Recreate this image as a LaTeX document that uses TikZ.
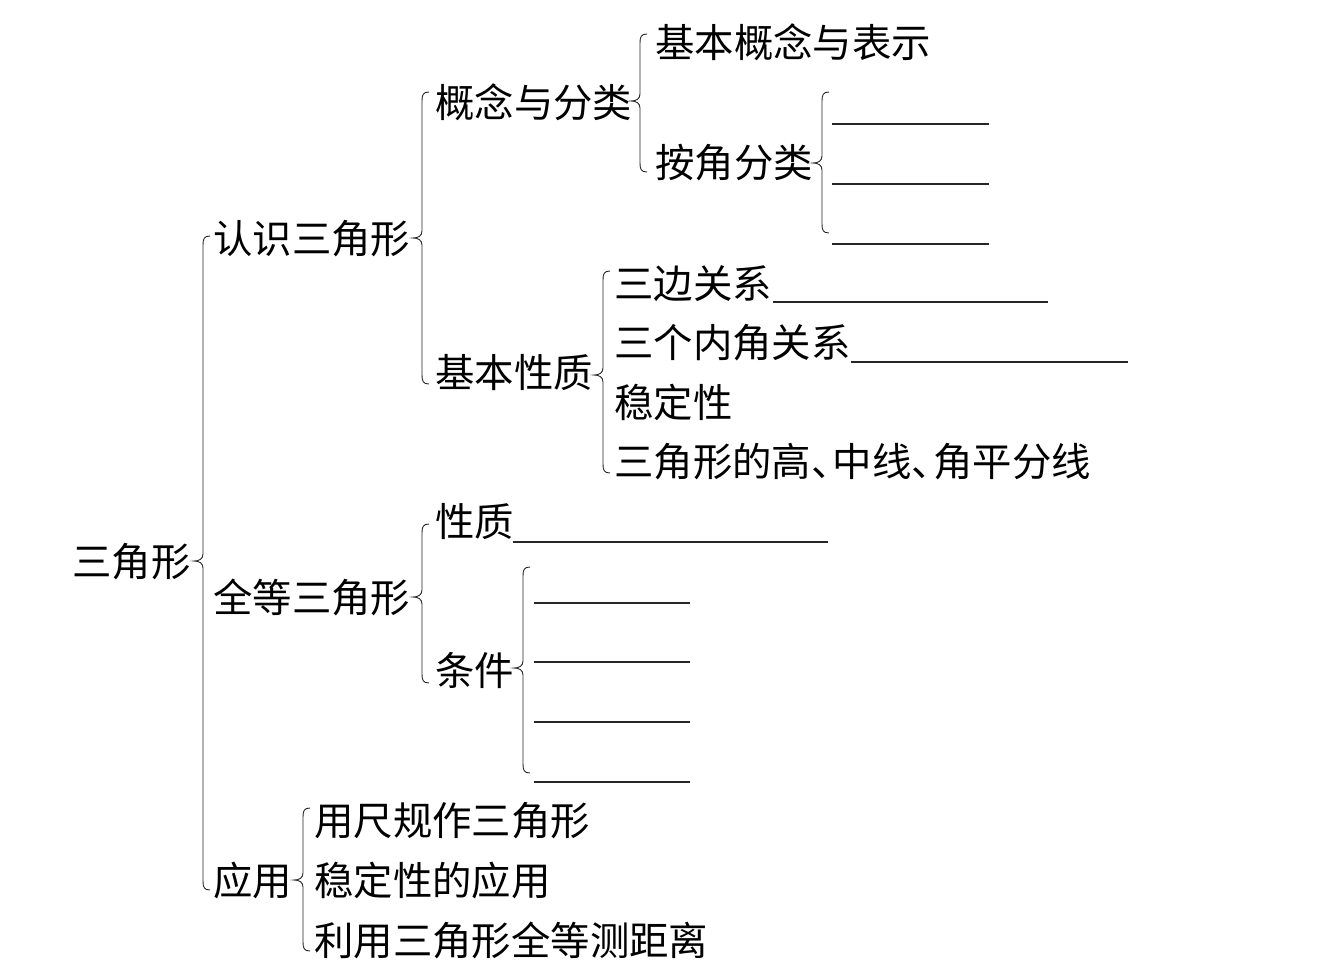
\documentclass[tikz,border=0pt]{standalone}
\usepackage{fontspec}
\newfontfamily\cjk{Noto Sans CJK SC}
\begin{document}
\begin{tikzpicture}[x=1pt,y=-1pt,
  txt/.style={anchor=west,inner sep=0pt,font=\cjk\fontsize{39.4}{39.4}\selectfont,text height=34.7pt,text depth=4.7pt},
  brc/.style={line width=0.9pt,black!85},
  blank/.style={line width=1.1pt,black!85}]
\useasboundingbox[fill=white] (0,0) rectangle (1333,978);
\newcommand\mybrace[4]{% x, ytop, ybot, ytip
  \draw[brc] ({#1+7},#2) .. controls ({#1+1},#2) and (#1,{#2+3}) .. (#1,{#2+9})
    -- (#1,{#4-7}) .. controls (#1,{#4-2}) and ({#1-4},#4) .. ({#1-9},#4)
    .. controls ({#1-4},#4) and (#1,{#4+2}) .. (#1,{#4+7})
    -- (#1,{#3-9}) .. controls (#1,{#3-3}) and ({#1+1},#3) .. ({#1+7},#3);}
% level 0
\node[txt] (root) at (72,561) {三角形};
% level 1
\node[txt] (rs) at (213,238) {认识三角形};
\node[txt] (qd) at (213,597) {全等三角形};
\node[txt] (yy) at (213,880) {应用};
% level 2
\node[txt] (gn) at (435,102) {概念与分类};
\node[txt] (xz) at (435,372) {基本性质};
\node[txt] (xz2) at (435,521) {性质};
\node[txt] (tj) at (435,670) {条件};
\node[txt] (y1) at (314,820) {用尺规作三角形};
\node[txt] (y2) at (314,880) {稳定性的应用};
\node[txt] (y3) at (314,940) {利用三角形全等测距离};
% level 3
\node[txt] (jb) at (655,42) {基本概念与表示};
\node[txt] (aj) at (655,162) {按角分类};
\node[txt] (sb) at (614,283) {三边关系};
\node[txt] (sn) at (614,342) {三个内角关系};
\node[txt] (wd) at (614,402) {稳定性};
\node[txt] (gx) at (614,461) {三角形的高、\kern-.45em中线、\kern-.45em角平分线};
% braces
\mybrace{203}{236}{890}{561}
\mybrace{422}{92}{384}{238}
\mybrace{640}{34}{172}{101}
\mybrace{822}{92}{233}{163}
\mybrace{603}{271}{473}{375}
\mybrace{422}{524}{683}{597}
\mybrace{523}{567}{773}{668}
\mybrace{303}{808}{951}{880}
% blanks
\draw[blank] (773,302) -- (1048,302);
\draw[blank] (851,362) -- (1128,362);
\draw[blank] (513,542) -- (828,542);
\foreach \yy in {124,184,244} \draw[blank] (832,\yy) -- (989,\yy);
\foreach \yy in {603,662,722,782} \draw[blank] (534,\yy) -- (690,\yy);
\end{tikzpicture}
\end{document}
